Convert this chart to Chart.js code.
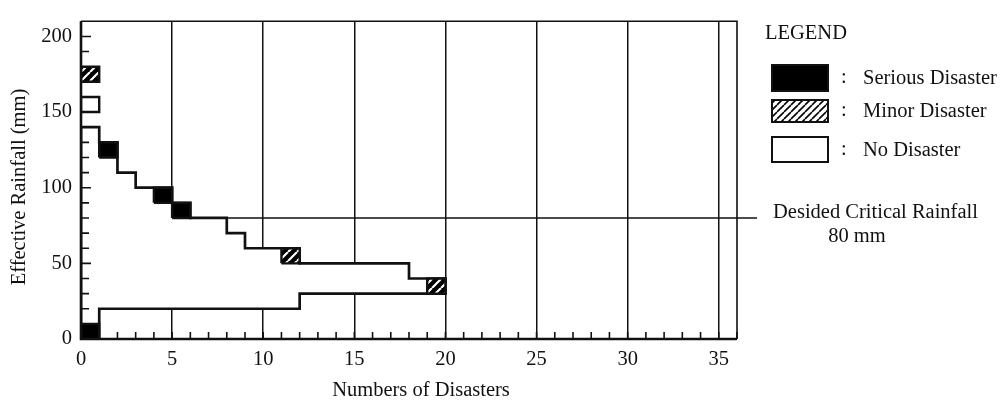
<!DOCTYPE html>
<html>
<head>
<meta charset="utf-8">
<script src="https://cdn.jsdelivr.net/npm/chart.js@4.4.1/dist/chart.umd.min.js"></script>
<style>
  html, body { margin: 0; padding: 0; background: #fff; }
  canvas { display: block; }
</style>
</head>
<body>
<canvas id="c" width="1002" height="401"></canvas>
<script>
// Rainfall band (mm) per column of the disaster count: upper and lower edge
const topLevels    = [140, 130, 110, 100, 100, 90, 80, 80, 70, 60, 60, 60, 50, 50, 50, 50, 50, 50, 40, 40];
const bottomLevels = [0, 20, 20, 20, 20, 20, 20, 20, 20, 20, 20, 20, 30, 30, 30, 30, 30, 30, 30, 30];

// Marked cells: column, rainfall range (mm) and kind of disaster
const cellColumn = [0, 0, 0, 1, 4, 5, 11, 19];
const cellLow    = [170, 150, 0, 120, 90, 80, 50, 30];
const cellHigh   = [180, 160, 10, 130, 100, 90, 60, 40];
const cellKind   = ['minor', 'none', 'serious', 'serious', 'serious', 'serious', 'minor', 'minor'];

// Decided critical rainfall line
const criticalRainfall = 80;
const criticalSpan = [0, 37.1];

// Axes
const xRange = [0, 36];
const yRange = [0, 210];
const xTickValues = [0, 5, 10, 15, 20, 25, 30, 35];
const yTickValues = [0, 50, 100, 150, 200];
const xMinorStep = 1;
const yMinorStep = 10;

const legendLabels = ['Serious Disaster', 'Minor Disaster', 'No Disaster'];
const legendKinds  = ['serious', 'minor', 'none'];

const INK = '#111';
const FONT = '20.5px "Liberation Serif", "Times New Roman", serif';

function hatch(bg, fg, size, lw) {
  const c = document.createElement('canvas');
  c.width = c.height = size;
  const g = c.getContext('2d');
  g.fillStyle = bg;
  g.fillRect(0, 0, size, size);
  g.strokeStyle = fg;
  g.lineWidth = lw;
  g.beginPath();
  for (let k = -1; k <= 1; k++) {
    g.moveTo(k * size, size);
    g.lineTo(k * size + size, 0);
  }
  g.stroke();
  return g.createPattern(c, 'repeat');
}

const plotHatch = hatch('#000', '#fff', 9, 2.2);
const legendHatch = hatch('#fff', '#000', 7, 1.6);
const cellFill = { serious: '#000', minor: plotHatch, none: '#fff' };
const legendFill = { serious: '#000', minor: legendHatch, none: '#fff' };

// Outline of the band: upper staircase left to right, lower staircase back
const band = [];
topLevels.forEach((v, i) => { band.push({ x: i, y: v }, { x: i + 1, y: v }); });
for (let i = bottomLevels.length - 1; i >= 0; i--) {
  band.push({ x: i + 1, y: bottomLevels[i] }, { x: i, y: bottomLevels[i] });
}
band.push({ x: 0, y: topLevels[0] });

const datasets = [];
datasets.push({
  label: 'critical',
  data: criticalSpan.map(x => ({ x, y: criticalRainfall })),
  showLine: true, borderColor: INK, borderWidth: 1.6, pointRadius: 0,
  fill: false, order: 3, clip: { left: 0, top: 0, right: 30, bottom: 0 }
});
datasets.push({
  label: 'band',
  data: band,
  showLine: true, borderColor: INK, borderWidth: 2.7, pointRadius: 0,
  backgroundColor: '#fff', fill: 'shape', order: 2, borderJoinStyle: 'miter'
});
cellColumn.forEach((c, i) => {
  const lo = cellLow[i], hi = cellHigh[i];
  datasets.push({
    label: 'cell' + i,
    data: [{ x: c, y: lo }, { x: c + 1, y: lo }, { x: c + 1, y: hi }, { x: c, y: hi }, { x: c, y: lo }],
    showLine: true, borderColor: INK, borderWidth: 2.4, pointRadius: 0,
    backgroundColor: cellFill[cellKind[i]], fill: 'shape', order: 1, borderJoinStyle: 'miter'
  });
});

const decorations = {
  id: 'decorations',
  afterDatasetsDraw(chart) {
    const { ctx, chartArea: a, scales: { x, y } } = chart;
    ctx.save();
    ctx.strokeStyle = INK;
    ctx.lineCap = 'butt';

    // frame
    ctx.lineWidth = 1.6;
    ctx.beginPath();
    ctx.moveTo(a.left, a.top); ctx.lineTo(a.right, a.top); ctx.lineTo(a.right, a.bottom);
    ctx.stroke();
    ctx.lineWidth = 2.6;
    ctx.beginPath();
    ctx.moveTo(a.left, a.top); ctx.lineTo(a.left, a.bottom); ctx.lineTo(a.right, a.bottom);
    ctx.stroke();

    // inner tick marks
    ctx.lineWidth = 1.6;
    ctx.beginPath();
    for (let v = xRange[0] + xMinorStep; v <= xRange[1]; v += xMinorStep) {
      const px = x.getPixelForValue(v);
      ctx.moveTo(px, a.bottom); ctx.lineTo(px, a.bottom - 7);
    }
    for (let v = yRange[0] + yMinorStep; v <= 200; v += yMinorStep) {
      const py = y.getPixelForValue(v);
      ctx.moveTo(a.left, py); ctx.lineTo(a.left + (v % 50 === 0 ? 10 : 8), py);
    }
    ctx.stroke();

    // axis titles
    ctx.fillStyle = INK;
    ctx.font = FONT;
    ctx.textAlign = 'center';
    ctx.textBaseline = 'middle';
    ctx.fillText('Numbers of Disasters', 421, 391);
    ctx.save();
    ctx.translate(20, 187);
    ctx.rotate(-Math.PI / 2);
    ctx.fillText('Effective Rainfall (mm)', 0, 0);
    ctx.restore();

    // legend
    ctx.textAlign = 'left';
    ctx.fillText('LEGEND', 765, 34);
    const boxes = [[65, 26], [100, 22], [137, 25]];
    const textY = [79, 112, 151];
    legendKinds.forEach((k, i) => {
      const [top, h] = boxes[i];
      ctx.fillStyle = legendFill[k];
      ctx.fillRect(772, top, 56, h);
      ctx.lineWidth = 2;
      ctx.strokeRect(772, top, 56, h);
      ctx.fillStyle = INK;
      ctx.fillText(':', 841, textY[i] - 1);
      ctx.fillText(legendLabels[i], 863, textY[i]);
    });

    // critical rainfall note
    ctx.fillText('Desided Critical Rainfall', 773, y.getPixelForValue(criticalRainfall) - 5);
    ctx.textAlign = 'center';
    ctx.fillText(criticalRainfall + ' mm', 857, y.getPixelForValue(criticalRainfall) + 19);
    ctx.restore();
  }
};

new Chart(document.getElementById('c'), {
  type: 'scatter',
  data: { datasets },
  options: {
    responsive: false,
    animation: false,
    devicePixelRatio: 1,
    layout: { padding: { left: 0, top: 14, right: 265, bottom: 0 } },
    plugins: { legend: { display: false }, tooltip: { enabled: false } },
    scales: {
      x: {
        type: 'linear', min: xRange[0], max: xRange[1],
        afterBuildTicks: s => { s.ticks = xTickValues.map(v => ({ value: v })); },
        afterFit: s => { s.height = 62; },
        grid: { color: INK, lineWidth: 1.5, drawTicks: false },
        border: { display: false },
        ticks: { font: { family: '"Liberation Serif", serif', size: 20.5 }, color: INK, padding: 8, maxRotation: 0, autoSkip: false }
      },
      y: {
        type: 'linear', min: yRange[0], max: yRange[1],
        afterBuildTicks: s => { s.ticks = yTickValues.map(v => ({ value: v })); },
        afterFit: s => { s.width = 81; },
        grid: { display: false, drawTicks: false },
        border: { display: false },
        ticks: { font: { family: '"Liberation Serif", serif', size: 20.5 }, color: INK, padding: 9, autoSkip: false }
      }
    }
  },
  plugins: [decorations]
});
</script>
</body>
</html>
